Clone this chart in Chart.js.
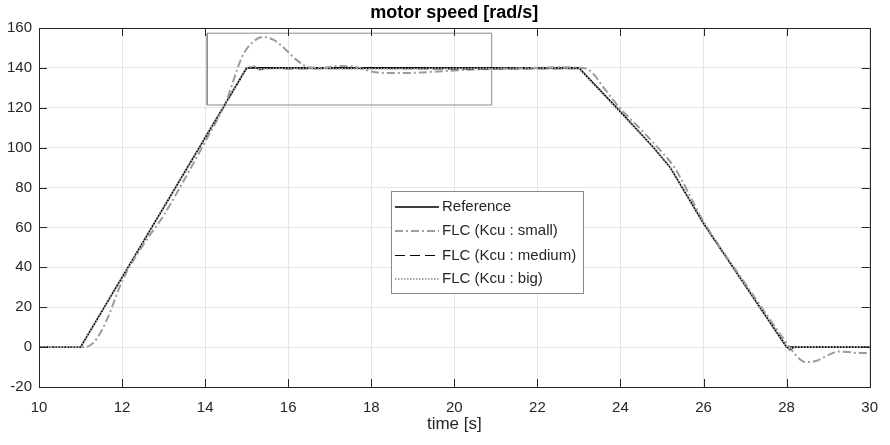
<!DOCTYPE html>
<html>
<head>
<meta charset="utf-8">
<script src="https://cdn.jsdelivr.net/npm/chart.js@4"></script>
<style>
  html, body { margin: 0; padding: 0; background: #fff; }
  #wrap { width: 890px; height: 445px; }
</style>
</head>
<body>
<div id="wrap"><canvas id="speed-chart" width="890" height="445"></canvas></div>
<script>
// ── Data ──────────────────────────────────────────────────
const refTime  = [10, 11, 15, 23, 24, 24.8, 25.2, 26, 27, 28, 30];
const refSpeed = [0, 0, 140, 140, 118, 100, 90, 62, 31, 0, 0];

const smallTime  = [10, 11.1, 11.3, 11.5, 11.7, 12, 12.5, 13, 13.5, 14, 14.5, 14.9, 15.15, 15.4, 15.65, 15.9, 16.2, 16.5, 16.8, 17.2, 17.6, 18.1, 18.6, 19.1, 19.6, 20.1, 20.6, 21.5, 22.5, 23.1, 23.3, 23.6, 24, 24.5, 24.9, 25.3, 26, 27, 28, 28.2, 28.45, 28.7, 29, 29.25, 29.5, 29.75, 30];
const smallSpeed = [0, 0, 2, 8, 17, 33, 51, 66, 84, 103, 123, 146, 153, 155.5, 154, 150, 144, 140.3, 140, 141, 140.5, 137.8, 137.4, 137.6, 138.2, 138.8, 139.3, 139.7, 140.3, 140, 138, 130, 119.5, 109, 100, 90, 63, 32, 2, -3.5, -7.5, -7, -4, -2.2, -2.5, -3, -3];

const mediumTime  = [10, 11, 15, 15.15, 15.3, 15.6, 16, 18, 20, 23, 24, 24.8, 25.2, 26, 27, 28, 28.06, 28.2, 30];
const mediumSpeed = [0, 0, 139.5, 141.5, 139, 139.8, 139.5, 139.7, 139.4, 139.6, 118, 100, 90, 62, 31, 0.5, -1.5, 0, 0];

const bigTime  = [10, 11, 15, 15.15, 15.3, 15.6, 16, 18, 20, 23, 24, 24.8, 25.2, 26, 27, 28, 28.06, 28.2, 30];
const bigSpeed = [0, 0, 139.8, 140.8, 139.3, 139.6, 139.8, 139.5, 139.7, 139.7, 117.5, 100, 90, 62, 31, 0.3, -1, 0, 0];

// zoom rectangle drawn on the plot
const boxTime  = [14.05, 20.9, 20.9, 14.05, 14.05];
const boxSpeed = [121.4, 121.4, 157.4, 157.4, 121.4];

const xTicks = [10, 12, 14, 16, 18, 20, 22, 24, 26, 28, 30];
const yTicks = [-20, 0, 20, 40, 60, 80, 100, 120, 140, 160];

const legendLabels = ['Reference', 'FLC (Kcu : small)', 'FLC (Kcu : medium)', 'FLC (Kcu : big)'];

const toXY = (xs, ys) => xs.map((x, i) => ({ x, y: ys[i] }));

const AXIS_COLOR = '#262626';
const FONT = 'Liberation Sans, Arial, Helvetica, sans-serif';

// ── Frame, inward ticks and legend (MATLAB look) ──────────
const matlabAxes = {
  id: 'matlabAxes',
  afterDraw(chart) {
    const { ctx, chartArea: a, scales } = chart;
    const tl = 8;
    ctx.save();
    ctx.strokeStyle = AXIS_COLOR;
    ctx.lineWidth = 1;
    ctx.beginPath();
    xTicks.forEach(v => {
      const px = Math.round(scales.x.getPixelForValue(v)) + 0.5;
      ctx.moveTo(px, a.bottom); ctx.lineTo(px, a.bottom - tl);
      ctx.moveTo(px, a.top);    ctx.lineTo(px, a.top + tl);
    });
    yTicks.forEach(v => {
      const py = Math.round(scales.y.getPixelForValue(v)) + 0.5;
      ctx.moveTo(a.left, py);  ctx.lineTo(a.left + tl, py);
      ctx.moveTo(a.right, py); ctx.lineTo(a.right - tl, py);
    });
    ctx.stroke();
    ctx.strokeRect(Math.round(a.left) + 0.5, Math.round(a.top) + 0.5,
                   Math.round(a.right - a.left), Math.round(a.bottom - a.top));

    // legend box
    const lx = 391.5, ly = 191.5, lw = 192, lh = 102;
    ctx.fillStyle = '#fff';
    ctx.fillRect(lx, ly, lw, lh);
    ctx.strokeStyle = '#8a8a8a';
    ctx.strokeRect(lx, ly, lw, lh);

    const rows = [207, 231, 255.5, 279];
    const order = ['ref', 'small', 'medium', 'big'];
    ctx.font = '15px ' + FONT;
    ctx.textBaseline = 'middle';
    order.forEach((key, i) => {
      const ds = chart.data.datasets.find(d => d.key === key);
      ctx.save();
      ctx.strokeStyle = ds.borderColor;
      ctx.lineWidth = ds.borderWidth;
      ctx.setLineDash(ds.borderDash || []);
      ctx.beginPath();
      ctx.moveTo(395, rows[i]);
      ctx.lineTo(439, rows[i]);
      ctx.stroke();
      ctx.restore();
      ctx.fillStyle = AXIS_COLOR;
      ctx.fillText(legendLabels[i], 442, rows[i]);
    });
    ctx.restore();
  }
};

const lineBase = { pointRadius: 0, fill: false, tension: 0 };

new Chart(document.getElementById('speed-chart').getContext('2d'), {
  type: 'line',
  data: {
    datasets: [
      { key: 'big', data: toXY(bigTime, bigSpeed), borderColor: '#a8a8a8', borderWidth: 2, borderDash: [1.5, 1.5], ...lineBase },
      { key: 'medium', data: toXY(mediumTime, mediumSpeed), borderColor: '#000', borderWidth: 1, borderDash: [10, 5], ...lineBase },
      { key: 'small', data: toXY(smallTime, smallSpeed), borderColor: '#9c9c9c', borderWidth: 2, borderDash: [8, 3, 2, 3],
        pointRadius: 0, fill: false, cubicInterpolationMode: 'monotone' },
      { key: 'ref', data: toXY(refTime, refSpeed), borderColor: '#000', borderWidth: 1.6, ...lineBase },
      { key: 'box', data: toXY(boxTime, boxSpeed), borderColor: '#8a8a8a', borderWidth: 1, ...lineBase }
    ]
  },
  options: {
    responsive: false,
    animation: false,
    devicePixelRatio: 1,
    layout: { padding: { left: 0, right: 15, top: 0, bottom: 0 } },
    plugins: {
      legend: { display: false },
      tooltip: { enabled: false },
      title: {
        display: true,
        text: 'motor speed [rad/s]',
        fullSize: false,
        color: '#000',
        font: { family: FONT, size: 18, weight: 'bold' },
        padding: { top: 2, bottom: 4.4 }
      }
    },
    scales: {
      x: {
        type: 'linear',
        min: 10, max: 30,
        afterBuildTicks: s => { s.ticks = xTicks.map(v => ({ value: v })); },
        afterFit: s => { s.height = 58; },
        grid: { color: '#e6e6e6', drawTicks: false },
        border: { display: false },
        ticks: { color: AXIS_COLOR, padding: 12, maxRotation: 0, font: { family: FONT, size: 15 } },
        title: { display: true, text: 'time [s]', color: AXIS_COLOR, font: { family: FONT, size: 17 }, padding: { top: 0, bottom: 10 } }
      },
      y: {
        type: 'linear',
        min: -20, max: 160,
        afterBuildTicks: s => { s.ticks = yTicks.map(v => ({ value: v })); },
        afterFit: s => { s.width = 39; },
        grid: { color: '#e6e6e6', drawTicks: false },
        border: { display: false },
        ticks: { color: AXIS_COLOR, padding: 7, font: { family: FONT, size: 15 } }
      }
    }
  },
  plugins: [matlabAxes]
});
</script>
</body>
</html>
